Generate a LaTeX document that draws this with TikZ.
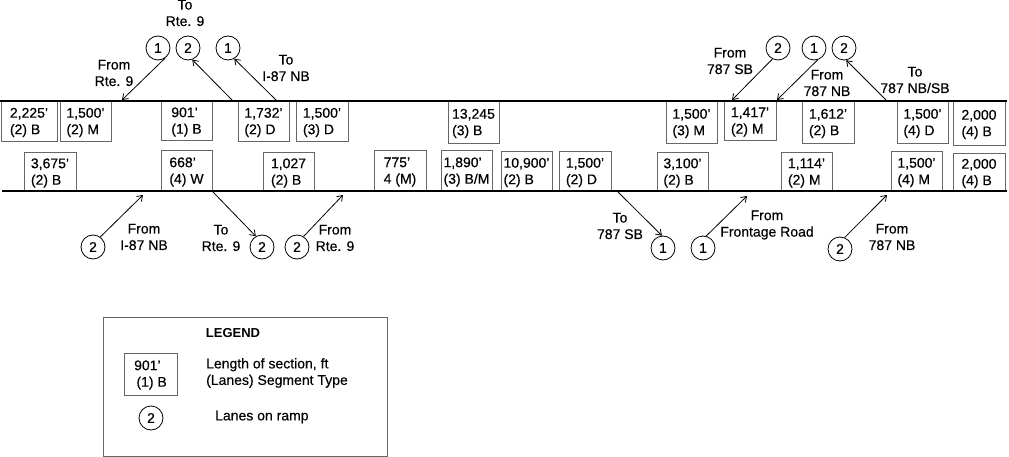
\documentclass[tikz,border=0pt]{standalone}
\usepackage{fontspec}
\setmainfont[FakeBold=0.35]{Liberation Sans}
\newfontfamily\legfont{Liberation Sans}
\usetikzlibrary{arrows.meta}
\tikzset{
  segbox/.style={draw=black!60, line width=0.7pt, inner sep=0pt},
  segtxt/.style={align=left, inner sep=0pt, font=\fontsize{14}{16.5}\selectfont},
  num/.style={circle, draw=black, line width=0.8pt, minimum size=24pt, inner sep=0pt, font=\fontsize{14}{16}\selectfont},
  lab/.style={align=center, inner sep=0pt, font=\fontsize{14}{16.5}\selectfont},
  road/.style={line width=2.8pt, black},
  ramp/.style={line width=0.8pt, -{Straight Barb[length=5pt,width=7pt,line width=0.8pt]}},
  legbox/.style={draw=black!60, line width=0.7pt, inner sep=0pt},
}
\newcommand\seg[6]{%
  \node[segbox, minimum width={#4-#2}, minimum height={#5-#3}] (#1) at ({(#2+#4)/2},{(#3+#5)/2}) {};
  \node[segtxt] (#1t) at ([yshift=-1.5pt]#1.center) {#6};}
\begin{document}
\begin{tikzpicture}[x=1pt,y=-1pt]
\useasboundingbox (0,0) rectangle (1009,457);
% top row segments
\seg{ta}{1}{101}{57}{141}{2,225’\\(2) B}
\seg{tb}{60}{101}{111}{141}{1,500’\\(2) M}
\seg{tc}{161}{101}{212}{140}{901’\\(1) B}
\seg{td}{238}{101}{289}{141}{1,732’\\(2) D}
\seg{te}{296}{101}{348}{141}{1,500’\\(3) D}
\seg{tf}{448}{101}{499}{143}{13,245\\(3) B}
\seg{tg}{666}{101}{717}{143}{1,500’\\(3) M}
\seg{th}{724}{101}{776}{140}{1,417’\\(2) M}
\seg{ti}{802}{101}{854}{143}{1,612’\\(2) B}
\seg{tj}{897}{101}{948}{143}{1,500’\\(4) D}
\seg{tk}{953}{101}{1005}{145}{2,000\\(4) B}
% bottom row segments
\seg{ba}{24}{152}{76}{191}{3,675’\\(2) B}
\seg{bb}{161}{150}{212}{191}{668’\\(4) W}
\seg{bc}{263}{152}{314}{191}{1,027\\(2) B}
\seg{bd}{374}{150}{426}{191}{775’\\4 (M)}
\seg{be}{441}{150}{492}{191}{1,890’\\(3) B/M}
\seg{bf}{501}{151}{552}{191}{10,900’\\(2) B}
\seg{bg}{559}{151}{611}{191}{1,500’\\(2) D}
\seg{bh}{657}{152}{708}{191}{3,100’\\(2) B}
\seg{bi}{781}{152}{832}{191}{1,114’\\(2) M}
\seg{bj}{891}{151}{942}{191}{1,500’\\(4) M}
\seg{bk}{953}{153}{1005}{191}{2,000\\(4) B}
% roads
\coordinate (r1a) at (0,101);
\coordinate (r1b) at (1007,101);
\coordinate (r2a) at (2,191);
\coordinate (r2b) at (1007,191);
\draw[road] (r1a) -- (r1b);
\draw[road] (r2a) -- (r2b);
% ramp circles
\node[num] (c1) at (158,48) {1};
\node[num] (c2) at (188,48) {2};
\node[num] (c3) at (228,48) {1};
\node[num] (c4) at (778,48) {2};
\node[num] (c5) at (814,48) {1};
\node[num] (c6) at (844,48) {2};
\node[num] (d1) at (93,247) {2};
\node[num] (d2) at (262,247) {2};
\node[num] (d3) at (297,247) {2};
\node[num] (d4) at (663,248) {1};
\node[num] (d5) at (703,248) {1};
\node[num] (d6) at (840,249) {2};
% ramp points on roads
\coordinate (p1) at (122,100);
\coordinate (p2) at (233,101);
\coordinate (p3) at (277,101);
\coordinate (p4) at (732,100);
\coordinate (p5) at (777,100);
\coordinate (p6) at (887,101);
\coordinate (q1) at (143,195);
\coordinate (q2) at (213,192);
\coordinate (q3) at (343,195);
\coordinate (q4) at (618,192);
\coordinate (q5) at (747,196);
\coordinate (q6) at (887,195);
% ramps
\draw[ramp] (c1.-55) -- (p1);
\draw[ramp] (p2) -- (c2.-70);
\draw[ramp] (p3) -- (c3.-60);
\draw[ramp] (c4.-117) -- (p4);
\draw[ramp] (c5.-73) -- (p5);
\draw[ramp] (p6) -- (c6.-80);
\draw[ramp] (d1.54) -- (q1);
\draw[ramp] (q2) -- (d2.120);
\draw[ramp] (d3.58) -- (q3);
\draw[ramp] (q4) -- (d4.95);
\draw[ramp] (d5.75) -- (q5);
\draw[ramp] (d6.68) -- (q6);
% labels
\node[lab] (l1) at (185,13) {To\\Rte. 9};
\node[lab] (l2) at (114,73) {From\\Rte. 9};
\node[lab] (l3) at (286,68) {To\\I-87 NB};
\node[lab] (l4) at (730,61) {From\\787 SB};
\node[lab] (l5) at (827,83) {From\\787 NB};
\node[lab] (l6) at (915,80) {To\\787 NB/SB};
\node[lab] (l7) at (144,237) {From\\I-87 NB};
\node[lab] (l8) at (221,238) {To\\Rte. 9};
\node[lab] (l9) at (335,238) {From\\Rte. 9};
\node[lab] (l10) at (620,226) {To\\787 SB};
\node[lab] (l11) at (767,225) {From\\Frontage Road};
\node[lab] (l12) at (892,237) {From\\787 NB};
% legend
\node[legbox, minimum width=284pt, minimum height=139pt] (leg) at (245,386.5) {};
\node[lab, font=\legfont\fontsize{13}{15}\selectfont\bfseries] (legt) at (233,333) {LEGEND};
\node[segbox, minimum width=53pt, minimum height=42pt] (legs) at (150.5,374) {};
\node[segtxt] (legst) at ([yshift=-1pt]legs.center) {901’\\\,(1) B};
\node[segtxt, anchor=west] (legd) at (206,373) {Length of section, ft\\(Lanes) Segment Type};
\node[num] (legc) at (151,418) {2};
\node[segtxt, anchor=west] (legn) at (215,417) {Lanes on ramp};
\end{tikzpicture}
\end{document}
